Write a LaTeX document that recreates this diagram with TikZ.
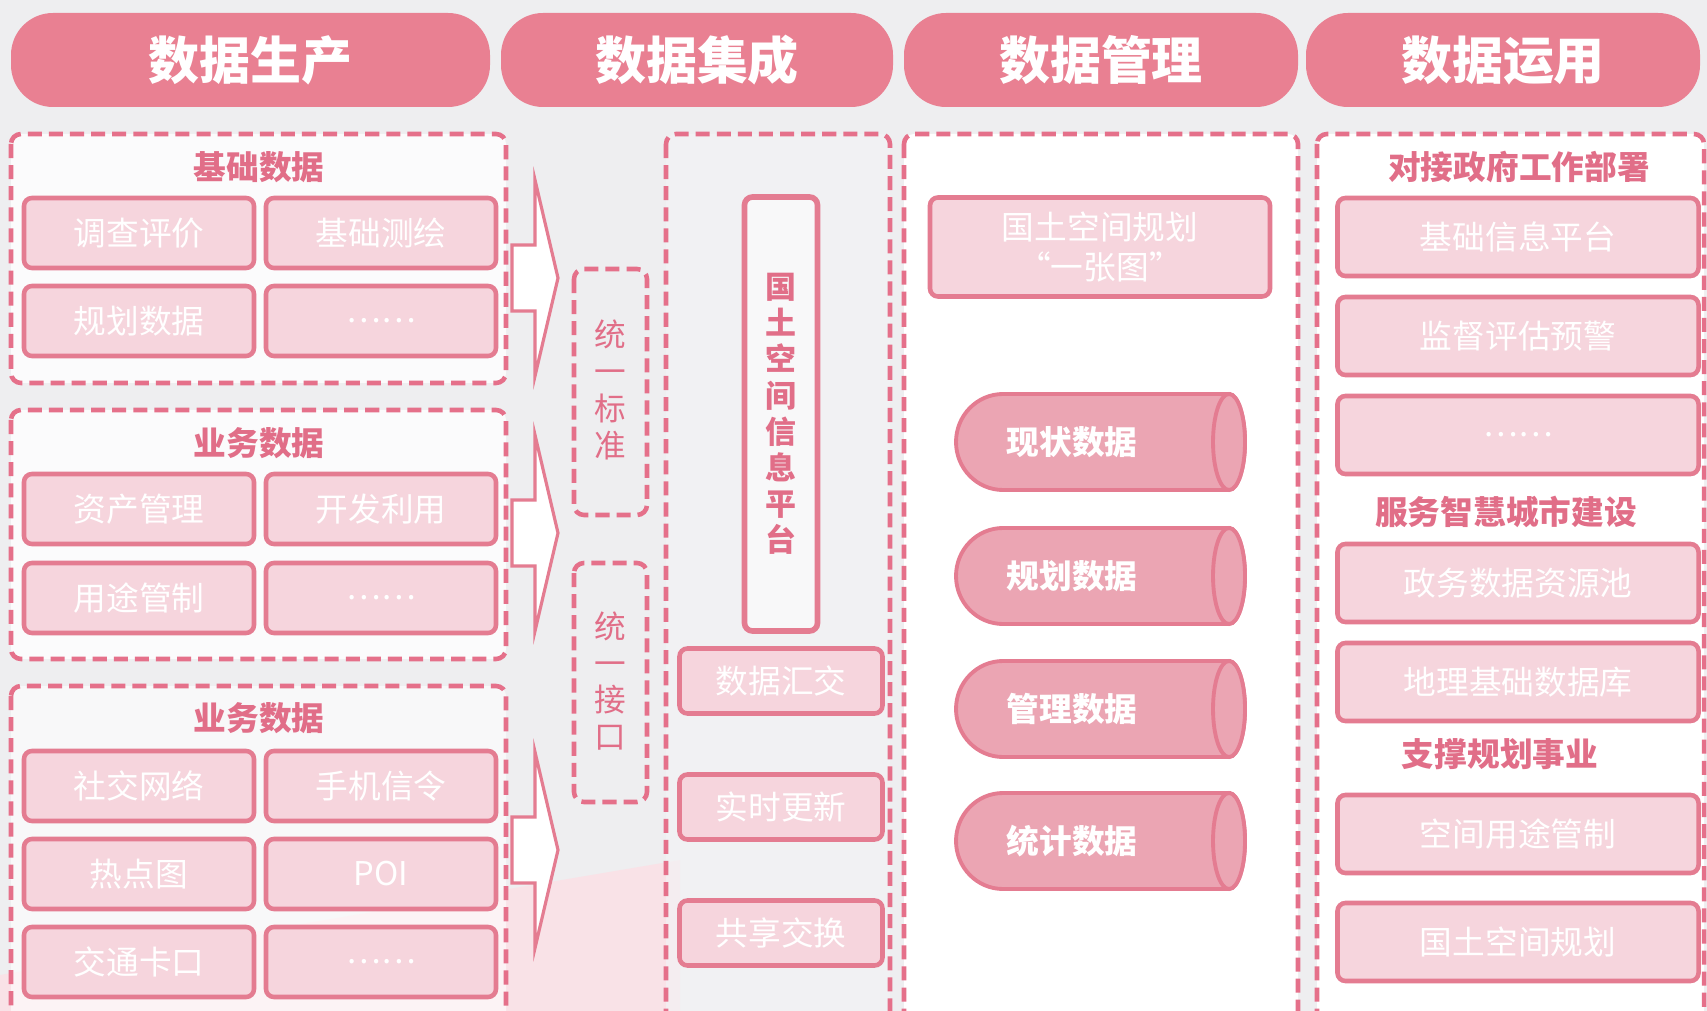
\documentclass[tikz,border=0pt]{standalone}
\usepackage{fontspec}
\setmainfont{Noto Sans CJK SC}
\usetikzlibrary{positioning}

\definecolor{hgrund}{RGB}{238,238,240}
\definecolor{kopf}{RGB}{233,128,146}
\definecolor{rand}{RGB}{229,112,138}
\definecolor{zellfill}{RGB}{246,213,221}
\definecolor{zellrand}{RGB}{228,124,145}
\definecolor{titelfarbe}{RGB}{225,110,136}
\definecolor{zylfill}{RGB}{235,165,179}
\definecolor{spalte}{RGB}{243,243,245}

\tikzset{
  kopfzeile/.style={fill=kopf, rounded corners=0.42cm, minimum height=0.94cm,
    text=white, font=\fontsize{14.5}{17}\selectfont\bfseries},
  rahmen/.style={draw=rand, line width=1.3pt, dash pattern=on 4pt off 2pt,
    rounded corners=0.1cm},
  zelle/.style={draw=zellrand, fill=zellfill, line width=1.3pt, rounded corners=0.08cm,
    inner sep=0pt, text=white, font=\fontsize{9.3}{11}\selectfont},
  titel/.style={text=titelfarbe, font=\fontsize{9.3}{11}\selectfont\bfseries},
  senkrecht/.style={text=titelfarbe, align=center, font=\fontsize{9}{10.5}\selectfont},
  pfeil/.style={draw=zellrand, fill=white, line width=0.9pt, line join=miter},
  zylinder/.style={draw=zellrand, fill=zylfill, line width=1.1pt},
  zyltext/.style={text=white, font=\fontsize{9.3}{11}\selectfont\bfseries}
}

\begin{document}
\begin{tikzpicture}

% Hintergrund
\useasboundingbox (0,0) rectangle (17.07,-10.11);
\fill[hgrund] (0,0) rectangle (17.07,-10.11);
\fill[zellfill!70] (0,-9.75) -- (6.8,-8.6) -- (6.8,-10.11) -- (0,-10.11) -- cycle;

% Kopfzeilen
\node[kopfzeile, minimum width=4.79cm] (kopf1) at (2.505,-0.60) {数据生产};
\node[kopfzeile, minimum width=3.92cm] (kopf2) at (6.97,-0.60) {数据集成};
\node[kopfzeile, minimum width=3.94cm] (kopf3) at (11.01,-0.60) {数据管理};
\node[kopfzeile, minimum width=3.94cm] (kopf4) at (15.03,-0.60) {数据运用};

% Rahmen
\draw[rahmen, fill=white, fill opacity=0.8] (0.11,-1.34) rectangle (5.06,-3.83);
\draw[rahmen, fill=white, fill opacity=0.8] (0.11,-4.10) rectangle (5.06,-6.59);
\draw[rahmen, fill=white, fill opacity=0.6] (0.11,-6.86) rectangle (5.06,-10.4);
\draw[rahmen, fill=spalte, fill opacity=0.7] (6.66,-1.34) rectangle (8.90,-10.4);
\draw[rahmen, fill=white] (9.04,-1.34) rectangle (12.98,-10.4);
\draw[rahmen, fill=white] (13.17,-1.34) rectangle (17.04,-10.4);
\draw[rahmen] (5.74,-2.69) rectangle (6.47,-5.15);
\draw[rahmen] (5.74,-5.63) rectangle (6.47,-8.02);

% Datenproduktion
\node[titel] (basis) at (2.59,-1.67) {基础数据};
\node[zelle, minimum width=2.30cm, minimum height=0.70cm] (diaocha) at (1.39,-2.33) {调查评价};
\node[zelle, minimum width=2.30cm, minimum height=0.70cm] (cehui) at (3.81,-2.33) {基础测绘};
\node[zelle, minimum width=2.30cm, minimum height=0.70cm] (guihua) at (1.39,-3.21) {规划数据};
\node[zelle, minimum width=2.30cm, minimum height=0.70cm] (basisrest) at (3.81,-3.21) {……};

\node[titel] (geschaeft) at (2.59,-4.43) {业务数据};
\node[zelle, minimum width=2.30cm, minimum height=0.70cm] (zichan) at (1.39,-5.09) {资产管理};
\node[zelle, minimum width=2.30cm, minimum height=0.70cm] (kaifa) at (3.81,-5.09) {开发利用};
\node[zelle, minimum width=2.30cm, minimum height=0.70cm] (yongtu) at (1.39,-5.98) {用途管制};
\node[zelle, minimum width=2.30cm, minimum height=0.70cm] (geschaeftrest) at (3.81,-5.98) {……};

\node[titel] (geschaeft2) at (2.59,-7.18) {业务数据};
\node[zelle, minimum width=2.30cm, minimum height=0.70cm] (shejiao) at (1.39,-7.86) {社交网络};
\node[zelle, minimum width=2.30cm, minimum height=0.70cm] (shouji) at (3.81,-7.86) {手机信令};
\node[zelle, minimum width=2.30cm, minimum height=0.70cm] (redian) at (1.39,-8.74) {热点图};
\node[zelle, minimum width=2.30cm, minimum height=0.70cm] (poi) at (3.81,-8.74) {POI};
\node[zelle, minimum width=2.30cm, minimum height=0.70cm] (jiaotong) at (1.39,-9.62) {交通卡口};
\node[zelle, minimum width=2.30cm, minimum height=0.70cm] (geschaeft2rest) at (3.81,-9.62) {……};

% Blockpfeile
\foreach \y in {-2.78,-5.33,-8.50}
  \draw[pfeil] (5.12,\y+0.33) -- (5.35,\y+0.33) -- (5.35,\y+0.98) -- (5.58,\y)
    -- (5.35,\y-0.98) -- (5.35,\y-0.33) -- (5.12,\y-0.33) -- cycle;

% Datenintegration
\node[senkrecht] (standard) at (6.10,-3.90) {统\\一\\标\\准};
\node[senkrecht] (schnitt) at (6.10,-6.81) {统\\一\\接\\口};
\node[draw=zellrand, fill=white, fill opacity=0.5, text opacity=1, line width=1.6pt,
  rounded corners=0.08cm, minimum width=0.73cm, minimum height=4.34cm, align=center,
  text=titelfarbe, font=\fontsize{8.8}{10.3}\selectfont\bfseries]
  (plattform) at (7.81,-4.14) {国\\土\\空\\间\\信\\息\\平\\台};
\node[zelle, minimum width=2.03cm, minimum height=0.65cm] (huijiao) at (7.81,-6.81) {数据汇交};
\node[zelle, minimum width=2.03cm, minimum height=0.65cm] (gengxin) at (7.81,-8.07) {实时更新};
\node[zelle, minimum width=2.03cm, minimum height=0.65cm] (gongxiang) at (7.81,-9.33) {共享交换};

% Datenverwaltung
\node[zelle, minimum width=3.40cm, minimum height=0.99cm, align=center,
  font=\fontsize{9.3}{11.4}\selectfont] (yizhangtu) at (11.00,-2.47) {国土空间规划\\“一张图”};
\foreach \y/\t/\n in {-4.42/现状数据/zyl1, -5.76/规划数据/zyl2,
                      -7.09/管理数据/zyl3, -8.41/统计数据/zyl4} {
  \draw[zylinder] (12.29,\y+0.48) -- (10.03,\y+0.48)
    arc[start angle=90, end angle=270, x radius=0.47, y radius=0.48]
    -- (12.29,\y-0.48)
    arc[start angle=-90, end angle=90, x radius=0.16, y radius=0.48] -- cycle;
  \draw[zylinder] (12.29,\y) ellipse [x radius=0.16, y radius=0.48];
  \node[zyltext] (\n) at (10.72,\y) {\t};
}

% Datenanwendung
\node[titel] (regierung) at (15.19,-1.67) {对接政府工作部署};
\node[zelle, minimum width=3.61cm, minimum height=0.78cm] (xinxi) at (15.18,-2.37) {基础信息平台};
\node[zelle, minimum width=3.61cm, minimum height=0.78cm] (jiandu) at (15.18,-3.36) {监督评估预警};
\node[zelle, minimum width=3.61cm, minimum height=0.78cm] (regrest) at (15.18,-4.35) {……};
\node[titel] (stadt) at (15.06,-5.12) {服务智慧城市建设};
\node[zelle, minimum width=3.61cm, minimum height=0.78cm] (zhengwu) at (15.18,-5.83) {政务数据资源池};
\node[zelle, minimum width=3.61cm, minimum height=0.78cm] (dili) at (15.18,-6.82) {地理基础数据库};
\node[titel] (planung) at (15.00,-7.54) {支撑规划事业};
\node[zelle, minimum width=3.61cm, minimum height=0.78cm] (kongjian) at (15.18,-8.34) {空间用途管制};
\node[zelle, minimum width=3.61cm, minimum height=0.78cm] (guotu) at (15.18,-9.42) {国土空间规划};

\end{tikzpicture}
\end{document}
